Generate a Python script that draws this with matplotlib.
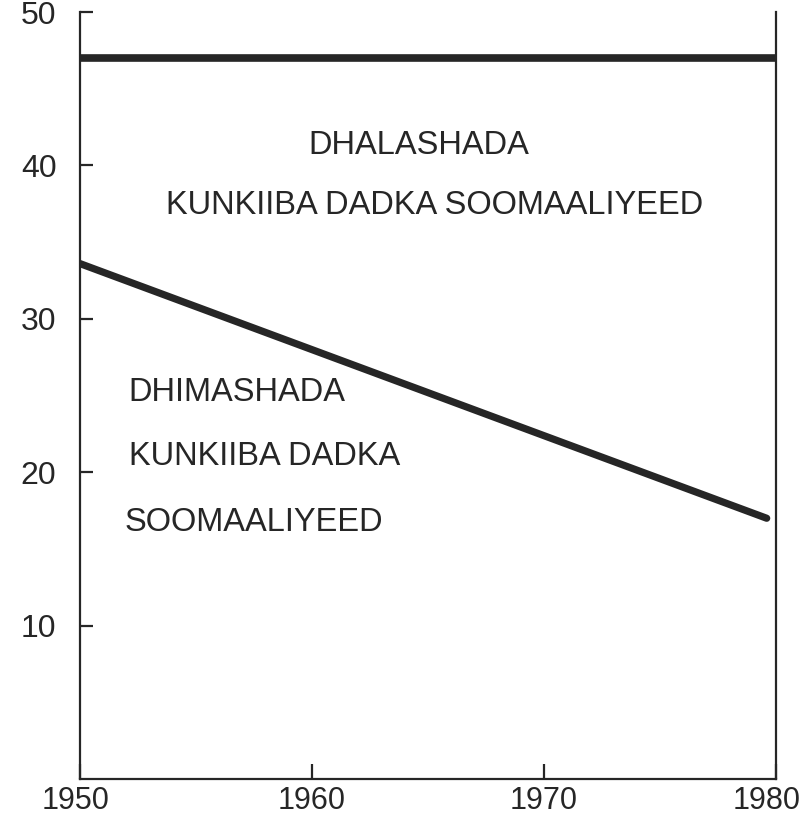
import matplotlib
matplotlib.use("Agg")
import matplotlib.pyplot as plt
import matplotlib.transforms as mtransforms

plt.rcParams['font.family'] = ['Liberation Sans', 'DejaVu Sans']

# values
birth_years = [1950, 1980]
birth_rate = [47.0, 47.0]
death_years = [1950, 1979.6]
death_rate = [33.6, 17.0]

x_ticks = [1950, 1960, 1970, 1980]
y_ticks = [10, 20, 30, 40, 50]

ink = "#262626"
fs = 23.5

fig = plt.figure(figsize=(8.1, 8.19), dpi=100)
ax = fig.add_axes([0.0988, 0.0488, 0.8592, 0.9365])

ax.plot(birth_years, birth_rate, color=ink, lw=5.5, solid_capstyle="round")
ax.plot(death_years, death_rate, color=ink, lw=5.2, solid_capstyle="round")

ax.text(1964.6, 41.3, "DHALASHADA", ha="center", va="center", fontsize=fs, color=ink)
ax.text(1965.3, 37.4, "KUNKIIBA DADKA SOOMAALIYEED", ha="center", va="center",
        fontsize=fs, color=ink)
ax.text(1952.1, 25.2, "DHIMASHADA", ha="left", va="center", fontsize=fs, color=ink)
ax.text(1952.1, 21.0, "KUNKIIBA DADKA", ha="left", va="center", fontsize=fs, color=ink)
ax.text(1951.9, 16.75, "SOOMAALIYEED", ha="left", va="center", fontsize=fs, color=ink)

ax.set_xlim(1950, 1980)
ax.set_ylim(0, 50)
ax.set_xticks(x_ticks)
ax.set_yticks(y_ticks)
ax.tick_params(axis="both", direction="in", colors=ink, width=1.6)
ax.tick_params(axis="x", length=11, pad=5, labelsize=22)
ax.tick_params(axis="y", length=9, pad=17, labelsize=23)

# nudge the outer year labels in so they stay on the page, as in the scan
labels = ax.get_xticklabels()
labels[0].set_transform(labels[0].get_transform() +
                        mtransforms.ScaledTranslation(-0.04, 0, fig.dpi_scale_trans))
labels[-1].set_transform(labels[-1].get_transform() +
                         mtransforms.ScaledTranslation(-0.09, 0, fig.dpi_scale_trans))

ax.spines["top"].set_visible(False)
for s in ["left", "bottom", "right"]:
    ax.spines[s].set_linewidth(1.6)
    ax.spines[s].set_color(ink)

fig.savefig("out.png", dpi=100)
